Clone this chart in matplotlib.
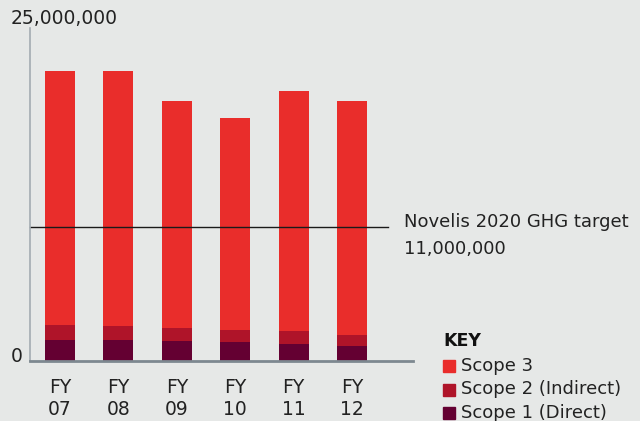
import matplotlib.pyplot as plt
from matplotlib.patches import Rectangle

# greenhouse gas emissions by fiscal year (tonnes CO2e)
years = ['FY\n07', 'FY\n08', 'FY\n09', 'FY\n10', 'FY\n11', 'FY\n12']
scope1 = [1.72e6, 1.72e6, 1.64e6, 1.56e6, 1.39e6, 1.23e6]
scope2 = [1.23e6, 1.15e6, 1.06e6, 0.98e6, 1.06e6, 0.90e6]
scope3 = [20.8e6, 20.9e6, 18.6e6, 17.4e6, 19.7e6, 19.2e6]
target = 11e6

labels = ['Scope 3', 'Scope 2 (Indirect)', 'Scope 1 (Direct)']
colors = ['#E92D2B', '#AF1429', '#640032']
bg = '#E6E8E7'
txt = '#222222'

plt.rcParams['font.family'] = ['DejaVu Sans']

fig = plt.figure(figsize=(6.4, 4.21), dpi=100, facecolor=bg)
ax = fig.add_axes([30 / 640, 60 / 421, 383 / 640, 333 / 421], facecolor=bg)


def fy(py):
    # pixel row (from top) -> figure fraction
    return 1 - py / 421


x = list(range(len(years)))
w = 0.514
ax.bar(x, scope1, w, color=colors[2])
ax.bar(x, scope2, w, bottom=scope1, color=colors[1])
base3 = [a + b for a, b in zip(scope1, scope2)]
ax.bar(x, scope3, w, bottom=base3, color=colors[0])

ax.set_xlim(-0.514, 6.045)
ax.set_ylim(0, 27.3e6)

# target line and its label
ax.plot([-0.514, 5.62], [target, target], color='#1a1a1a', lw=1, clip_on=False)
fig.text(404 / 640, fy(222), 'Novelis 2020 GHG target', fontsize=13, color=txt,
         va='center', ha='left')
fig.text(404 / 640, fy(249), '{:,.0f}'.format(target), fontsize=13, color=txt,
         va='center', ha='left')

for s in ['top', 'right']:
    ax.spines[s].set_visible(False)
ax.spines['left'].set_color('#A3ABB1')
ax.spines['left'].set_linewidth(1.2)
ax.spines['bottom'].set_color('#7D8890')
ax.spines['bottom'].set_linewidth(2)

ax.set_xticks(x)
ax.set_xticklabels(years, fontsize=13.5, color=txt, linespacing=1.25)
ax.tick_params(axis='x', length=0, pad=12)
ax.set_yticks([])

fig.text(11 / 640, fy(18), '25,000,000', fontsize=13.5, color=txt,
         va='center', ha='left')
fig.text(11 / 640, fy(357), '0', fontsize=13.5, color=txt,
         va='center', ha='left')

# key
fig.text(443 / 640, fy(341), 'KEY', fontsize=12.5, fontweight='bold',
         color='#111111', va='center', ha='left')
for i, (lab, c) in enumerate(zip(labels, colors)):
    yc = 366 + i * 23.5
    fig.patches.append(Rectangle((443 / 640, fy(yc + 6)), 12 / 640, 12 / 421,
                                 transform=fig.transFigure, color=c))
    fig.text(461 / 640, fy(yc), lab, fontsize=13, color=txt,
             va='center', ha='left')

fig.savefig('out.png', dpi=100, facecolor=bg)
